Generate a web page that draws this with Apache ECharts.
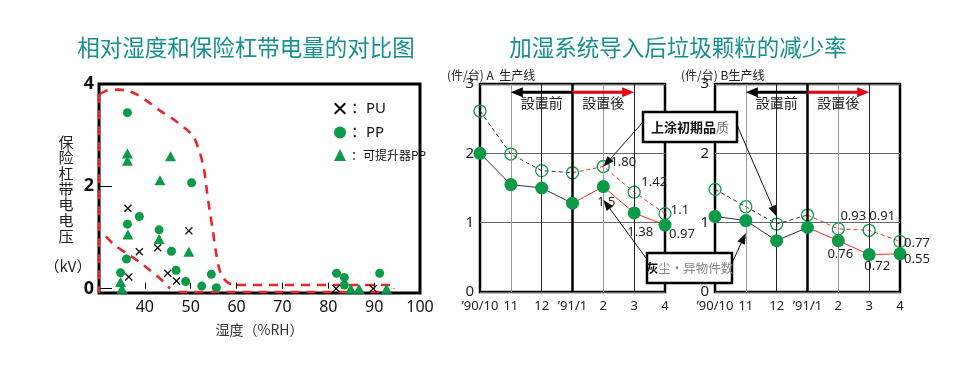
<!DOCTYPE html>
<html><head><meta charset="utf-8">
<script src="https://cdn.jsdelivr.net/npm/echarts@6/dist/echarts.min.js"></script>
<style>html,body{margin:0;padding:0;background:#fff}#c{width:972px;height:383px}</style>
</head><body><div id="c"></div>
<script>
// ---------- data: left chart ----------
const leftTitle = '相对湿度和保险杠带电量的对比图';
const rightTitle = '加湿系统导入后垃圾颗粒的减少率';
const humidityTicks = [40, 50, 60, 70, 80, 90, 100];
const voltageTicks = [0, 2, 4];
const puPoints = [[36.3,1.57],[38.8,0.72],[42.8,0.80],[49.6,1.13],[36.5,0.23],[45.0,0.30],[46.9,0.15],[81.7,0.0],[89.8,0.0]];
const ppPoints = [[36.2,3.44],[50.2,2.07],[38.8,1.41],[36.2,1.26],[43.1,1.15],[36.0,0.58],[45.8,0.73],[46.8,0.36],[34.7,0.31],[48.9,0.14],[54.5,0.28],[52.4,0.05],[55.6,0.02],[81.8,0.30],[83.5,0.22],[83.5,0.07],[91.2,0.30]];
const liftPoints = [[36.2,2.64],[36.2,2.50],[45.6,2.59],[43.3,2.12],[36.3,1.06],[43.1,0.97],[49.6,0.72],[34.7,0.13],[35.0,0.0],[84.9,0.0],[86.7,0.0],[92.7,0.0]];
const boundaryUpper = [[30.15,3.80],[31.6,3.87],[34.2,3.89],[36.0,3.87],[38.2,3.80],[40.4,3.67],[43.3,3.48],[46.2,3.31],[49.1,3.11],[50.2,3.02],[51.0,2.90],[52.0,2.66],[52.9,2.33],[53.5,1.93],[54.1,1.54],[54.8,1.15],[55.5,0.72],[56.3,0.36],[57.2,0.20],[58.2,0.11],[60.1,0.07]];
const boundaryFlat = [[60.1,0.07],[94.3,0.07],[94.3,0.0]];
const boundaryLower = [[31.5,1.02],[33.4,0.85],[36.0,0.69],[38.5,0.54],[41.1,0.36],[43.3,0.20],[45.5,0.0]];
const boundaryBottom = [[47.3,-0.065],[92.9,-0.065]];
const boundaryLeft = [[30.0,3.80],[30.0,-0.085]];

// ---------- data: right charts ----------
const months = ['’90/10','11','12','’91/1','2','3','4'];
const installIndex = 3;
const lineA_debris  = [2.00,1.55,1.50,1.28,1.52,1.14,0.965];
const lineA_coating = [2.61,1.99,1.75,1.72,1.81,1.44,1.13];
const lineB_debris  = [1.09,1.03,0.74,0.93,0.74,0.54,0.55];
const lineB_coating = [1.48,1.23,0.98,1.11,0.91,0.89,0.73];
const labelsA_debris  = ['','','','','1.5','1.38','0.97'];
const labelsA_coating = ['','','','','1.80','1.42','1.1'];
const labelsB_debris  = ['','','','','0.76','0.72','0.55'];
const labelsB_coating = ['','','','','0.93','0.91','0.77'];

// ---------- styles ----------
const offA_debris  = [null,null,null,null,[3,16],[6,19],[17,9]];
const offA_coating = [null,null,null,null,[20,-4],[20,-10],[15,-3]];
const offB_debris  = [null,null,null,null,[2,14],[8,12],[17,5]];
const offB_coating = [null,null,null,null,[15,-13],[13,-14],[17,2]];
const FONT = '"Noto Sans","Noto Sans CJK SC",sans-serif';
const CJK = '"Noto Sans CJK SC",sans-serif';
const JP = '"Noto Sans CJK JP",sans-serif';
const GREEN = '#0a9a48';
const RED = '#e8332a';
const TEAL = '#15908e';
const vStyles = [null,{color:'#9a9a9a',width:1},{color:'#222',width:1},{color:'#000',width:2.5},{color:'#9a9a9a',width:1},{color:'#222',width:1},null];
const crossPath = 'path://M0,1.2L1.2,0L5,3.8L8.8,0L10,1.2L6.2,5L10,8.8L8.8,10L5,6.2L1.2,10L0,8.8L3.8,5Z';

const chart = echarts.init(document.getElementById('c'));

function dashed(data, smooth){
  return {type:'line', xAxisIndex:0, yAxisIndex:0, data, symbol:'none', smooth: smooth||false, silent:true,
    lineStyle:{color:'#e8262c', width:2.6, type:[9,7]}, z:6};
}
function lbl(text, off){
  if (!text) return {show:false};
  return {show:true, formatter:text, position:'inside', offset:off, fontSize:13, color:'#222', fontFamily:FONT};
}
function rightSeries(g, debris, coating, dl, cl, doff, coff){
  const pre = a => a.map((v,i)=> i<=installIndex ? v : '-');
  const post = a => a.map((v,i)=> i>=installIndex ? v : '-');
  const ax = {xAxisIndex:g, yAxisIndex:g};
  const vlines = months.map((m,i)=> vStyles[i] ? {xAxis:m, lineStyle:{...vStyles[i], type:'solid'}} : null).filter(Boolean);
  return [
    {type:'line', ...ax, data:pre(coating), symbol:'none', lineStyle:{color:'#333',width:1,type:[4,3]}, z:3,
      markLine:{silent:true, symbol:['none','none'], label:{show:false}, animation:false,
        lineStyle:{type:'solid'}, emphasis:{disabled:true}, data:vlines}},
    {type:'line', ...ax, data:post(coating), symbol:'none', lineStyle:{color:RED,width:1,type:[4,3]}, z:3},
    {type:'line', ...ax, data:pre(debris), symbol:'none', lineStyle:{color:'#333',width:1}, z:3},
    {type:'line', ...ax, data:post(debris), symbol:'none', lineStyle:{color:RED,width:1}, z:3},
    {type:'scatter', ...ax, symbol:'circle', symbolSize:12, z:4,
      itemStyle:{color:'rgba(0,0,0,0)', borderColor:GREEN, borderWidth:1.3, opacity:1},
      data: coating.map((v,i)=>({value:[months[i], v], label:lbl(cl[i], coff[i])}))},
    {type:'scatter', ...ax, symbol:'circle', symbolSize:13, z:5, itemStyle:{color:GREEN, opacity:1},
      data: debris.map((v,i)=>({value:[months[i], v], label:lbl(dl[i], doff[i])}))}
  ];
}
function rightX(g){
  return {type:'category', gridIndex:g, data:months, boundaryGap:false,
    axisLine:{show:false}, axisTick:{show:false}, splitLine:{show:false},
    axisLabel:{interval:0, fontSize:13, color:'#222', margin:8, fontFamily:FONT}};
}
function rightY(g){
  return {type:'value', gridIndex:g, min:0, max:3, interval:1,
    axisLine:{show:false}, axisTick:{show:false},
    splitLine:{show:true, lineStyle:{color:'#666', width:1}},
    axisLabel:{fontSize:15, color:'#222', margin:6, fontFamily:FONT}};
}

const option = {
  animation:false,
  backgroundColor:'#fff',
  textStyle:{fontFamily:FONT},
  title:[
    {text:leftTitle, left:241, top:42, textAlign:'center', textVerticalAlign:'middle',
      textStyle:{color:TEAL, fontSize:22.5, fontWeight:'normal', fontFamily:CJK}},
    {text:rightTitle, left:673, top:42, textAlign:'center', textVerticalAlign:'middle',
      textStyle:{color:TEAL, fontSize:22.5, fontWeight:'normal', fontFamily:CJK}}
  ],
  legend:{
    left:329, top:96, orient:'vertical', itemGap:9, itemWidth:12, itemHeight:12,
    formatter: n => '：' + n,
    textStyle:{fontSize:15, color:'#111', fontFamily:FONT},
    data:[{name:'PU'},{name:'PP'},{name:'可提升器PP', textStyle:{fontSize:12, fontFamily:CJK}}]
  },
  grid:[
    {left:99, top:84, width:321, height:209, show:true, borderColor:'#000', borderWidth:3, backgroundColor:'transparent'},
    {left:480, top:84, width:185, height:208, show:true, borderColor:'#000', borderWidth:2.5, backgroundColor:'transparent'},
    {left:715, top:84, width:185, height:208, show:true, borderColor:'#000', borderWidth:2.5, backgroundColor:'transparent'}
  ],
  xAxis:[
    {type:'value', gridIndex:0, min:30, max:100,
      axisLine:{show:false}, splitLine:{show:false},
      axisTick:{show:true, inside:true, length:6, customValues:humidityTicks, lineStyle:{color:'#000'}},
      axisLabel:{customValues:humidityTicks, fontSize:16, color:'#111', margin:6, fontFamily:FONT},
      name:'湿度（%RH）', nameLocation:'middle', nameGap:30,
      nameTextStyle:{fontSize:14, color:'#333', fontFamily:CJK}},
    rightX(1), rightX(2)
  ],
  yAxis:[
    {type:'value', gridIndex:0, min:-0.085, max:4,
      axisLine:{show:false}, splitLine:{show:false},
      axisTick:{show:true, inside:true, length:13, customValues:voltageTicks, lineStyle:{color:'#000'}},
      axisLabel:{customValues:voltageTicks, fontSize:18, fontWeight:'bold', color:'#111', margin:5, fontFamily:FONT}},
    rightY(1), rightY(2)
  ],
  series:[
    dashed(boundaryLeft), dashed(boundaryUpper, 0.3), dashed(boundaryFlat), dashed(boundaryLower, 0.3), dashed(boundaryBottom),
    {name:'PU', type:'scatter', xAxisIndex:0, yAxisIndex:0, data:puPoints, symbol:crossPath, symbolSize:8, itemStyle:{color:'#111', opacity:1}, z:7},
    {name:'PP', type:'scatter', xAxisIndex:0, yAxisIndex:0, data:ppPoints, symbol:'circle', symbolSize:9, itemStyle:{color:GREEN, opacity:1}, z:7},
    {name:'可提升器PP', type:'scatter', xAxisIndex:0, yAxisIndex:0, data:liftPoints, symbol:'triangle', symbolSize:[11,10], itemStyle:{color:GREEN, opacity:1}, z:7},
    ...rightSeries(1, lineA_debris, lineA_coating, labelsA_debris, labelsA_coating, offA_debris, offA_coating),
    ...rightSeries(2, lineB_debris, lineB_coating, labelsB_debris, labelsB_coating, offB_debris, offB_coating)
  ]
};
chart.setOption(option);

// ---------- annotations ----------
const px = (g, i, v) => chart.convertToPixel({gridIndex:g}, [i, v]);
function arrow(p1, p2, color, width, hl, hw){
  const dx = p2[0]-p1[0], dy = p2[1]-p1[1], L = Math.hypot(dx,dy), ux = dx/L, uy = dy/L;
  const bx = p2[0]-ux*hl, by = p2[1]-uy*hl;
  return [
    {type:'line', z:50, silent:true, shape:{x1:p1[0], y1:p1[1], x2:bx+ux*1, y2:by+uy*1}, style:{stroke:color, lineWidth:width}},
    {type:'polygon', z:51, silent:true, shape:{points:[[p2[0],p2[1]],[bx-uy*hw, by+ux*hw],[bx+uy*hw, by-ux*hw]]}, style:{fill:color}}
  ];
}
function box(x, y, w, h, rich, text){
  return [
    {type:'rect', z:60, silent:true, shape:{x, y, width:w, height:h}, style:{fill:'#fff', stroke:'#000', lineWidth:2.5}},
    {type:'text', z:61, silent:true, x:x+w/2, y:y+h/2, style:{text, rich, align:'center', verticalAlign:'middle', fontFamily:CJK}}
  ];
}
const g = [];
[1,2].forEach(gi => {
  const yA = 2.88;
  g.push(...arrow(px(gi, installIndex, yA), px(gi, 0.62, yA), '#000', 3, 12, 5));
  g.push(...arrow(px(gi, installIndex, yA), px(gi, 5.38, yA), '#e60012', 3, 12, 5));
  const t1 = px(gi, 2, 2.73), t2 = px(gi, 4.06, 2.73);
  g.push({type:'text', z:40, x:t1[0], y:t1[1], style:{text:'設置前', align:'center', verticalAlign:'middle', fontSize:14, fill:'#222', fontFamily:JP}});
  g.push({type:'text', z:40, x:t2[0], y:t2[1], style:{text:'設置後', align:'center', verticalAlign:'middle', fontSize:14, fill:'#222', fontFamily:JP}});
});
// axis unit titles
g.push({type:'text', z:40, x:447, y:75, style:{text:'(件/台) A  生产线', align:'left', verticalAlign:'middle', fontSize:12, fill:'#222', fontFamily:CJK}});
g.push({type:'text', z:40, x:681, y:75, style:{text:'(件/台) B生产线', align:'left', verticalAlign:'middle', fontSize:12, fill:'#222', fontFamily:CJK}});
// left y axis name
g.push({type:'text', z:40, x:66, y:189, style:{text:'保\n险\n杠\n带\n电\n电\n压', align:'center', verticalAlign:'middle', fontSize:15, lineHeight:15.7, fill:'#222', fontFamily:CJK}});
g.push({type:'text', z:40, x:68, y:266, style:{text:'（kV）', align:'center', verticalAlign:'middle', fontSize:15, fill:'#222', fontFamily:CJK}});
// callout arrows
g.push(...arrow([643,122], px(1, 3.53, 1.805), '#111', 1, 11, 4));
g.push(...arrow([737,125], px(2, 2.44, 1.09), '#111', 1, 11, 4));
g.push(...arrow([646,258], px(1, 3.58, 1.33), '#111', 1, 11, 4));
g.push(...arrow([732,263], px(2, 1.47, 0.85), '#111', 1, 11, 4));
// callout boxes
g.push(...box(643, 112, 94, 30, {b:{fontSize:13, fontWeight:'bold', fill:'#111', fontFamily:CJK}, n:{fontSize:13, fill:'#777', fontFamily:CJK}}, '{b|上涂初期品}{n|质}'));
g.push(...box(647, 253, 85, 30, {b:{fontSize:12.5, fontWeight:'bold', fill:'#111', fontFamily:CJK}, n:{fontSize:12.5, fill:'#888', fontFamily:CJK}}, '{b|灰}{n|尘・异物件数}'));
chart.setOption({graphic:{elements:g}});
</script></body></html>
